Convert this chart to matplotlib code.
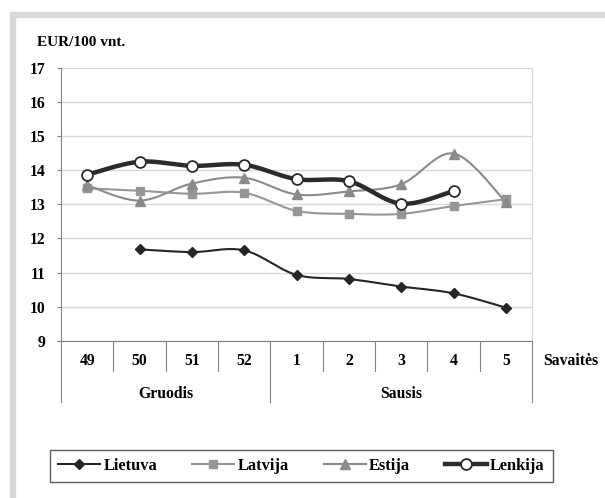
import numpy as np
import matplotlib.pyplot as plt
from matplotlib.patches import Rectangle

plt.rcParams['font.family'] = ['Liberation Serif', 'DejaVu Serif']
plt.rcParams['font.weight'] = 'bold'

weeks = ['49', '50', '51', '52', '1', '2', '3', '4', '5']
months = ['Gruodis', 'Sausis']
month_spans = [(0, 4), (4, 9)]

lietuva = [np.nan, 11.68, 11.60, 11.65, 10.93, 10.81, 10.59, 10.39, 9.97]
latvija = [13.47, 13.40, 13.31, 13.34, 12.81, 12.72, 12.72, 12.95, 13.15]
estija = [13.56, 13.11, 13.61, 13.78, 13.29, 13.38, 13.59, 14.49, 13.07]
lenkija = [13.87, 14.25, 14.13, 14.16, 13.74, 13.68, 13.02, 13.39, np.nan]


def smooth(x, y, n=24):
    # Catmull-Rom curve through the points, like Excel's smoothed line
    x = np.asarray(x, float)
    y = np.asarray(y, float)
    ok = ~np.isnan(y)
    x, y = x[ok], y[ok]
    px = np.concatenate([[x[0]], x, [x[-1]]])
    py = np.concatenate([[y[0]], y, [y[-1]]])
    xs, ys = [], []
    t = np.linspace(0, 1, n)
    for i in range(1, len(px) - 2):
        for p, out in ((px, xs), (py, ys)):
            p0, p1, p2, p3 = p[i - 1], p[i], p[i + 1], p[i + 2]
            out.extend(0.5 * ((2 * p1) + (-p0 + p2) * t
                              + (2 * p0 - 5 * p1 + 4 * p2 - p3) * t ** 2
                              + (-p0 + 3 * p1 - 3 * p2 + p3) * t ** 3))
    return xs, ys


W, H = 605, 498
FS = 11.3
fig = plt.figure(figsize=(W / 100, H / 100), dpi=100)
fig.patches.append(Rectangle((10 / W, 0), 5 / W, 1 - 12 / H, transform=fig.transFigure,
                             color='#d9d9d9', zorder=0))
fig.patches.append(Rectangle((10 / W, 1 - 17 / H), 1, 5 / H, transform=fig.transFigure,
                             color='#d9d9d9', zorder=0))

# plot area in pixels: x 61..532, y 68..340.7
ax_h = 272.7
ax = fig.add_axes([61 / W, 1 - 340.7 / H, 471 / W, ax_h / H])
x = np.arange(len(weeks))

series = [
    ('Lietuva', lietuva, '#262626', 1.5, 'D', 5.5, '#262626'),
    ('Latvija', latvija, '#969696', 1.5, 's', 5.2, '#969696'),
    ('Estija', estija, '#8a8a8a', 1.5, '^', 6.8, '#8a8a8a'),
    ('Lenkija', lenkija, '#2b2b2b', 3.2, 'o', 7.8, 'white'),
]
for name, vals, col, lw, mk, ms, mfc in series:
    sx, sy = smooth(x, vals)
    ax.plot(sx, sy, color=col, lw=lw, zorder=3)
    ax.plot(x, vals, ls='none', marker=mk, ms=ms, mfc=mfc, mec=col,
            mew=1.3 if mk == 'o' else 1, zorder=4)
    ax.plot([], [], color=col, lw=lw, marker=mk, ms=ms, mfc=mfc, mec=col,
            mew=1.3 if mk == 'o' else 1, label=name)

ax.set_xlim(-0.5, 8.5)
ax.set_ylim(9, 17)
ax.set_yticks(range(9, 18))
ax.yaxis.grid(True, color='#d9d9d9', lw=1)
ax.set_axisbelow(True)
ax.tick_params(axis='y', length=3, color='#808080', labelsize=FS, pad=8)
ax.set_xticks([])
ax.spines['top'].set_visible(False)
ax.spines['right'].set_color('#d9d9d9')
ax.spines['left'].set_color('#808080')
ax.spines['bottom'].set_color('#808080')

trans = ax.get_xaxis_transform()
for i, w in enumerate(weeks):
    ax.text(i, -20 / ax_h, w, transform=trans, ha='center', va='center', fontsize=FS)
for k in range(len(weeks) + 1):
    long = k in (0, 4, 9)
    ax.plot([k - 0.5, k - 0.5], [0, -(61 if long else 30) / ax_h], transform=trans,
            color='#808080', lw=0.8, clip_on=False)
for m, (a, b) in zip(months, month_spans):
    ax.text((a + b - 1) / 2, -53 / ax_h, m, transform=trans, ha='center', va='center',
            fontsize=FS)
fig.text(543 / W, 1 - 361 / H, 'Savaitės', ha='left', va='center', fontsize=FS)

fig.text(37 / W, 1 - 42 / H, 'EUR/100 vnt.', ha='left', va='center', fontsize=11)

leg = ax.legend(loc='center', ncol=4, bbox_to_anchor=(50 / W, 1 - 483 / H, 503 / W, 34 / H),
                bbox_transform=fig.transFigure, mode='expand', frameon=True,
                fancybox=False, edgecolor='#333333', fontsize=11.8, handlelength=2.55,
                handletextpad=0.2, columnspacing=1.4, borderpad=0.5, borderaxespad=0)
leg.get_frame().set_linewidth(1.0)

fig.savefig('out.png', dpi=100)
